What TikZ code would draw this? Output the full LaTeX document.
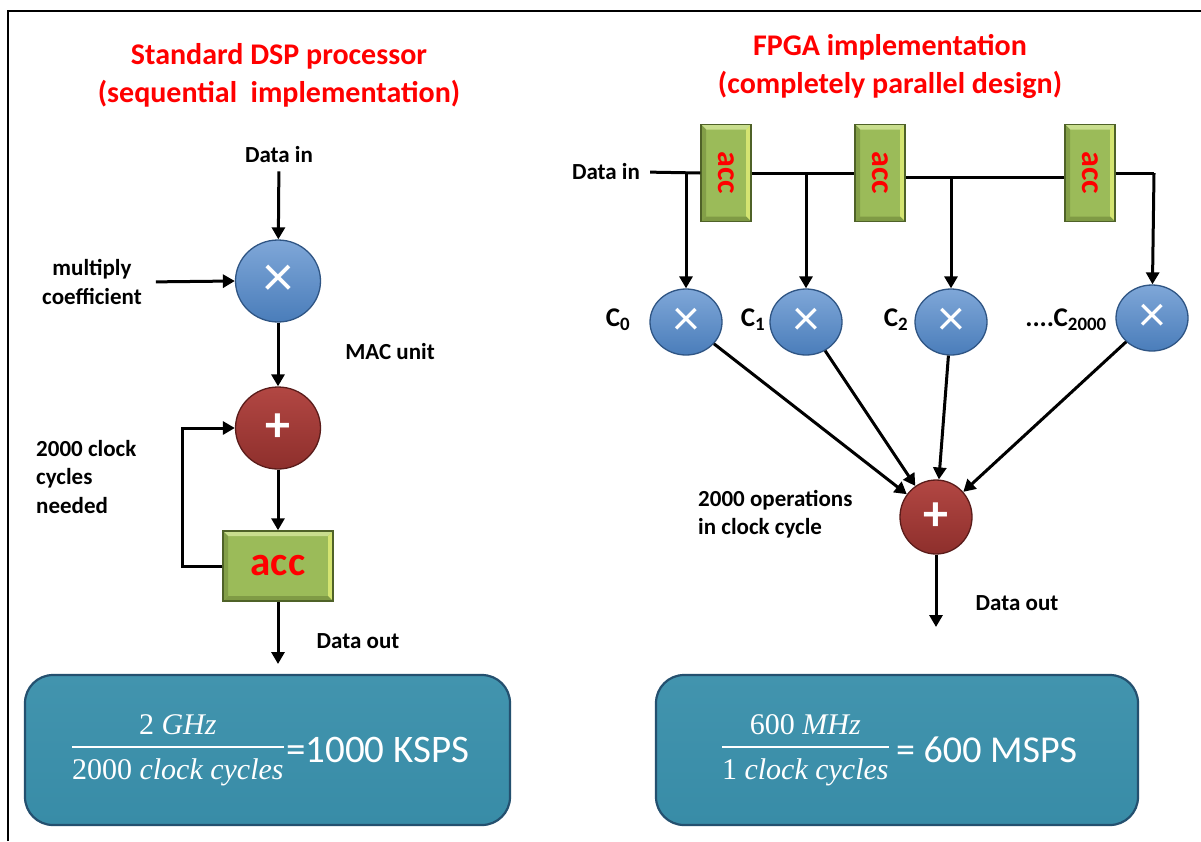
\documentclass[tikz,border=0pt]{standalone}
\usepackage{amsmath}
\usepackage{fontspec}
\setmainfont{Carlito}
\newfontfamily\fracfont{Liberation Serif}
\usetikzlibrary{arrows.meta,shapes.geometric}
\definecolor{bluemain}{HTML}{4A7DBA}
\definecolor{bluelight}{HTML}{7FA7D8}
\definecolor{bluedark}{HTML}{2F5584}
\definecolor{redmain}{HTML}{8E2F2C}
\definecolor{redlight}{HTML}{B24743}
\definecolor{reddark}{HTML}{5A1C1A}
\definecolor{greenmain}{HTML}{9BBB59}
\definecolor{greenlight}{HTML}{C9DE8E}
\definecolor{greenshade}{HTML}{7F9A45}
\definecolor{greendark}{HTML}{4F6228}
\definecolor{tealmain}{HTML}{388CA7}
\definecolor{teallight}{HTML}{4294AE}
\definecolor{tealdark}{HTML}{24506F}
\definecolor{titlered}{HTML}{FF0000}
\newcommand{\fracrow}[2]{\mbox{\fracfont #1\ \itshape #2}}
\newcommand{\myfrac}[2]{$\genfrac{}{}{1.6pt}{0}{\fracrow{#1}{#2}\rule[-7pt]{0pt}{7pt}}{\rule{0pt}{27pt}\fracrow{#1}{#2}}$}
\newcommand{\resfrac}[4]{$\genfrac{}{}{1.6pt}{0}{\rule[-7pt]{0pt}{7pt}\fracrow{#1}{#2}}{\rule{0pt}{27pt}\fracrow{#3}{#4}}$}
\begin{document}
\begin{tikzpicture}[x=1pt,y=-1pt,
  lbl/.style={font=\fontsize{23}{28.5}\selectfont\bfseries, text=black, inner sep=2pt},
  ttl/.style={font=\fontsize{30}{38}\selectfont\bfseries, text=titlered, align=center},
  arr/.style={line width=3pt, -{Triangle[length=12pt,width=13pt]}},
  wire/.style={line width=3pt},
  mul/.style={ellipse, draw=bluedark, line width=1.3pt, top color=bluelight, bottom color=bluemain, text=white, font=\fontsize{60}{60}\selectfont},
  addn/.style={ellipse, draw=reddark, line width=1.3pt, top color=redlight, bottom color=redmain, text=white, font=\fontsize{50}{50}\selectfont\bfseries},
  accbox/.style={rectangle, draw=greendark, line width=1.5pt, fill=greenmain, text=titlered, font=\bfseries,
    path picture={
      \fill[greenlight] (path picture bounding box.north west) -- (path picture bounding box.north east)
        -- ([xshift=-5pt,yshift=-5pt]path picture bounding box.north east) -- ([xshift=5pt,yshift=-5pt]path picture bounding box.north west) -- cycle;
      \fill[greenlight!80!yellow] (path picture bounding box.north east) -- (path picture bounding box.south east)
        -- ([xshift=-5pt,yshift=5pt]path picture bounding box.south east) -- ([xshift=-5pt,yshift=-5pt]path picture bounding box.north east) -- cycle;
      \fill[greenshade] (path picture bounding box.south west) -- (path picture bounding box.south east)
        -- ([xshift=-5pt,yshift=5pt]path picture bounding box.south east) -- ([xshift=5pt,yshift=5pt]path picture bounding box.south west) -- cycle;
      \fill[greenshade!85!greenmain] (path picture bounding box.north west) -- (path picture bounding box.south west)
        -- ([xshift=5pt,yshift=5pt]path picture bounding box.south west) -- ([xshift=5pt,yshift=-5pt]path picture bounding box.north west) -- cycle;
    }},
  resbox/.style={rectangle, rounded corners=28pt, draw=tealdark, line width=2.2pt, top color=teallight, bottom color=tealmain, minimum height=150pt},
  ftxt/.style={text=white, inner sep=0pt}
]
\useasboundingbox (0,0) rectangle (1201,841);
\fill[white] (0,0) rectangle (1201,841);
\draw[line width=2pt] (8,841) -- (8,10.5) -- (1201,10.5);

% ---------- left: DSP ----------
\node[ttl] (t1) at (279,75) {Standard DSP processor\\(sequential\ \ implementation)};
\node[lbl] (din1) at (279,155) {Data in};
\node[mul, minimum width=85pt, minimum height=82pt] (m1) at (278,281) {×};
\node[lbl, align=center] (mc) at (92,282) {multiply\\coefficient};
\node[addn, minimum width=85pt, minimum height=82pt] (a1) at (278,428) {+};
\node[lbl] (mac) at (390,352) {MAC unit};
\node[accbox, minimum width=110pt, minimum height=70pt, font=\fontsize{41}{44}\selectfont\bfseries] (acc0) at (278,566) {acc};
\node[lbl, align=left, anchor=west] (ccn) at (34,477) {2000 clock\\cycles\\needed};
\coordinate (o1) at (278,664);
\node[lbl] (dout1) at (358,641) {Data out};

\draw[arr, shorten <=6pt] (din1) -- (m1);
\draw[arr, shorten <=12pt] (mc.east) -- (m1.west);
\draw[arr] (m1) -- (a1);
\draw[arr] (a1) -- (acc0);
\draw[arr] (acc0.west) -- ++(-40,0) |- (a1.west);
\draw[arr] (acc0) -- (o1);

\node[resbox, minimum width=485pt] (r1) at (267.5,750) {};
\node[ftxt, anchor=east, font=\fontsize{30}{34}\selectfont] (f1) at (285,750)
  {\resfrac{2}{GHz}{2000}{clock cycles}};
\node[ftxt, anchor=west, font=\fontsize{39}{44}\selectfont] (e1) at ([xshift=1pt]f1.east) {=1000 KSPS};

% ---------- right: FPGA ----------
\node[ttl] (t2) at (890,66) {FPGA implementation\\(completely parallel design)};
\node[lbl] (din2) at (606,172) {Data in};
\node[accbox, minimum width=50pt, minimum height=97pt] (accA) at (726,173) {\rotatebox{-90}{\fontsize{32}{34}\selectfont acc}};
\node[accbox, minimum width=50pt, minimum height=97pt] (accB) at (880,173) {\rotatebox{-90}{\fontsize{32}{34}\selectfont acc}};
\node[accbox, minimum width=50pt, minimum height=97pt] (accC) at (1090,173) {\rotatebox{-90}{\fontsize{32}{34}\selectfont acc}};

\coordinate (j0) at (686,173);
\coordinate (j1) at (806,173);
\coordinate (j2) at (951,177);
\coordinate (j3) at (1154,173);

\draw[wire, shorten <=8pt] (din2.east) -- (accA.west);
\draw[wire] (accA.east) -- (accB.west);
\draw[wire] (accB.east |- j2) -- (accC.west |- j2);
\draw[wire] (accC.east) -- (j3);

\node[mul, minimum width=72pt, minimum height=66pt, font=\fontsize{52}{52}\selectfont] (c0) at (686,322) {×};
\node[mul, minimum width=72pt, minimum height=66pt, font=\fontsize{52}{52}\selectfont] (c1) at (806,322) {×};
\node[mul, minimum width=72pt, minimum height=66pt, font=\fontsize{52}{52}\selectfont] (c2) at (951,322) {×};
\node[mul, minimum width=72pt, minimum height=66pt, font=\fontsize{52}{52}\selectfont] (c3) at (1152,318) {×};

\node[lbl, font=\fontsize{27}{30}\selectfont\bfseries] (l0) at (618,320) {C\textsubscript{0}};
\node[lbl, font=\fontsize{27}{30}\selectfont\bfseries] (l1) at (753,320) {C\textsubscript{1}};
\node[lbl, font=\fontsize{27}{30}\selectfont\bfseries] (l2) at (896,320) {C\textsubscript{2}};
\node[lbl, font=\fontsize{27}{30}\selectfont\bfseries, anchor=east] (l3) at (1109,320) {....C\textsubscript{2000}};

\draw[arr] (j0) -- (c0);
\draw[arr] (j1) -- (c1);
\draw[arr] (j2) -- (c2);
\draw[arr] (j3) -- (c3);

\node[addn, minimum width=72pt, minimum height=74pt] (a2) at (936,517) {+};
\draw[arr] (c0) -- (a2);
\draw[arr] (c1) -- (a2);
\draw[arr] (c2) -- (a2);
\draw[arr] (c3) -- (a2);

\node[lbl, align=left, anchor=west] (ops) at (696,514) {2000 operations\\in clock cycle};
\coordinate (o2) at (936,627);
\draw[arr] (a2) -- (o2);
\node[lbl] (dout2) at (1017,603) {Data out};

\node[resbox, minimum width=482pt] (r2) at (897,750) {};
\node[ftxt, anchor=east, font=\fontsize{30}{34}\selectfont] (f2) at (890,750)
  {\resfrac{600}{MHz}{1}{clock cycles}};
\node[ftxt, anchor=west, font=\fontsize{38}{44}\selectfont] (e2) at ([xshift=6pt]f2.east) {= 600 MSPS};
\end{tikzpicture}
\end{document}
